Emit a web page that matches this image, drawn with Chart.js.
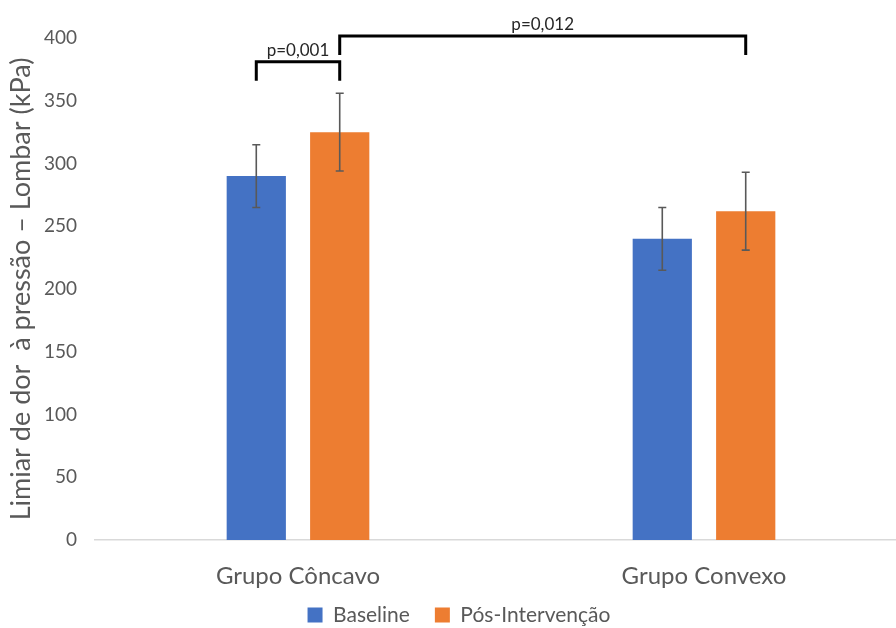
<!DOCTYPE html>
<html>
<head>
<meta charset="utf-8">
<script src="https://cdn.jsdelivr.net/npm/chart.js@4.4.0/dist/chart.umd.min.js"></script>
<style>
  html, body { margin: 0; padding: 0; background: #fff; }
  #wrap { width: 896px; height: 628px; }
</style>
</head>
<body>
<div id="wrap"><canvas id="myChart" width="896" height="628"></canvas></div>
<script>
// data
const groups = ['Grupo Côncavo', 'Grupo Convexo'];
const baseline = [290, 240];
const posIntervencao = [325, 262];
const baselineErr = [25, 25];
const posErr = [31, 31];
const yTicks = [0, 50, 100, 150, 200, 250, 300, 350, 400];

// significance brackets: [dataset, group] -> [dataset, group]
const brackets = [
    { from: [0, 0], to: [1, 0], level: 381, drop: 366, label: 'p=0,001' },
    { from: [1, 0], to: [1, 1], level: 401.5, drop: 386.5, label: 'p=0,012' }
];

const grey = '#595959';
const font = 'Lato, "Open Sans", sans-serif';

// the original plot area runs a little past the right edge of the picture,
// and its legend sits a bit right of centre and closer to the axis labels
const tweakLayout = {
    id: 'tweakLayout',
    afterLayout(chart) {
        const x = chart.scales.x;
        x.right = x.left + 812;
        x.width = 812;
        x.configure();
        chart.legend.left += 22;
        chart.legend.top -= 15.5;
        chart.legend.bottom -= 15.5;
    }
};

const errorBars = {
    id: 'errorBars',
    afterDatasetsDraw(chart) {
        const ctx = chart.ctx;
        const y = chart.scales.y;
        const errs = [baselineErr, posErr];
        ctx.save();
        ctx.strokeStyle = '#595959';
        ctx.lineWidth = 1.6;
        chart.data.datasets.forEach(function(ds, i) {
            const meta = chart.getDatasetMeta(i);
            meta.data.forEach(function(bar, j) {
                const v = ds.data[j];
                const top = y.getPixelForValue(v + errs[i][j]);
                const bot = y.getPixelForValue(v - errs[i][j]);
                ctx.beginPath();
                ctx.moveTo(bar.x, top); ctx.lineTo(bar.x, bot);
                ctx.moveTo(bar.x - 4, top); ctx.lineTo(bar.x + 4, top);
                ctx.moveTo(bar.x - 4, bot); ctx.lineTo(bar.x + 4, bot);
                ctx.stroke();
            });
        });
        ctx.restore();
    }
};

const sigBrackets = {
    id: 'sigBrackets',
    afterDraw(chart) {
        const ctx = chart.ctx;
        const y = chart.scales.y;
        ctx.save();
        ctx.strokeStyle = '#000';
        ctx.lineWidth = 3;
        ctx.fillStyle = '#262626';
        ctx.font = '17px ' + font;
        ctx.textAlign = 'center';
        ctx.textBaseline = 'bottom';
        brackets.forEach(function(b) {
            const x1 = chart.getDatasetMeta(b.from[0]).data[b.from[1]].x;
            const x2 = chart.getDatasetMeta(b.to[0]).data[b.to[1]].x;
            const yl = y.getPixelForValue(b.level);
            const yd = y.getPixelForValue(b.drop);
            ctx.beginPath();
            ctx.moveTo(x1, yd); ctx.lineTo(x1, yl); ctx.lineTo(x2, yl); ctx.lineTo(x2, yd);
            ctx.stroke();
            ctx.fillText(b.label, (x1 + x2) / 2, yl - 3);
        });
        ctx.restore();
    }
};

const ctx = document.getElementById('myChart');
const myChart = new Chart(ctx, {
    type: 'bar',
    data: {
        labels: groups,
        datasets: [
            { label: 'Baseline', data: baseline, backgroundColor: '#4472c4' },
            { label: 'Pós-Intervenção', data: posIntervencao, backgroundColor: '#ed7d31' }
        ]
    },
    options: {
        responsive: false,
        animation: false,
        events: [],
        layout: { padding: { top: 38, right: 0, left: 0, bottom: -23 } },
        datasets: { bar: { categoryPercentage: 0.411, barPercentage: 0.71 } },
        scales: {
            x: {
                grid: { display: false, drawTicks: false },
                border: { display: true, color: '#d9d9d9', width: 1.5 },
                ticks: { color: grey, font: { family: font, size: 24 }, padding: 22 },
                afterFit(scale) { scale.height = 55; }
            },
            y: {
                min: 0, max: 400,
                afterBuildTicks(scale) { scale.ticks = yTicks.map(v => ({ value: v })); },
                grid: { display: false, drawTicks: false },
                border: { display: false },
                ticks: { color: grey, font: { family: font, size: 19 }, padding: 18 },
                title: {
                    display: true,
                    text: 'Limiar de dor  à pressão – Lombar (kPa)',
                    color: grey,
                    font: { family: font, size: 27 },
                    padding: { top: 5, bottom: 0 }
                },
                afterFit(scale) { scale.width = 95; }
            }
        },
        plugins: {
            legend: {
                position: 'bottom',
                labels: {
                    color: grey,
                    font: { family: font, size: 21 },
                    boxWidth: 15, boxHeight: 15,
                    padding: 25
                }
            },
            tooltip: { enabled: false }
        }
    },
    plugins: [tweakLayout, errorBars, sigBrackets]
});
</script>
</body>
</html>
